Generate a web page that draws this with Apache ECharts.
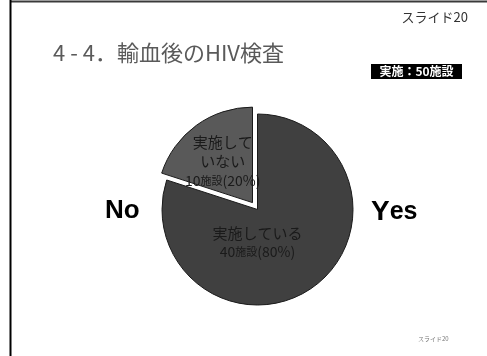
<!DOCTYPE html>
<html><head><meta charset="utf-8">
<script src="https://cdn.jsdelivr.net/npm/echarts@6/dist/echarts.min.js"></script>
<style>html,body{margin:0;padding:0;background:#fff}#c{width:487px;height:356px}</style>
</head><body><div id="c"></div>
<script>
const categories = ['実施している', '実施していない'];
const labelNames = ['実施している', '実施して\nいない'];
const values = [40, 10];
const colors = ['#404040', '#595959'];
const titleText = '4 - 4．輸血後のHIV検査';
const badgeText = '実施：50施設';
const slideText = 'スライド20';

const chart = echarts.init(document.getElementById('c'), null, {renderer: 'canvas'});
const cx = 257.5, cy = 209.5, R = 95.5;
const total = values.reduce((a, b) => a + b, 0);
const JP = '"Noto Sans CJK JP", sans-serif';
const LAT = '"Liberation Sans", Arial, sans-serif';

chart.setOption({
  animation: false,
  graphic: [
    {type: 'line', shape: {x1: 10, y1: 1.5, x2: 487, y2: 1.5}, style: {stroke: '#3a3a3a', lineWidth: 2}},
    {type: 'line', shape: {x1: 10.5, y1: 0, x2: 10.5, y2: 356}, style: {stroke: '#000', lineWidth: 2}},
    {type: 'text', right: 19, top: 11, style: {text: slideText, font: '13px ' + JP, fill: '#333'}},
    {type: 'text', left: 53, top: 42, style: {text: titleText, font: '22px ' + JP, fill: '#5a5a5a'}},
    {type: 'group', left: 371, top: 64, children: [
      {type: 'rect', shape: {x: 0, y: 0, width: 91, height: 15}, style: {fill: '#000'}},
      {type: 'text', x: 45.5, y: 7.5, style: {text: badgeText, font: 'bold 12px ' + JP, fill: '#fff', align: 'center', verticalAlign: 'middle'}}
    ]},
    {type: 'text', left: 105, top: 198, style: {text: 'No', font: 'bold 26px ' + LAT, fill: '#000'}},
    {type: 'text', left: 371, top: 198, style: {
      text: '{y|Y}{e|es}',
      rich: {y: {font: 'bold 28px ' + LAT, fill: '#000'}, e: {font: 'bold 25px ' + LAT, fill: '#000'}}
    }},
    {type: 'text', left: 418, top: 336, style: {text: slideText, font: '6px ' + JP, fill: '#777'}}
  ],
  series: [{
    type: 'pie',
    center: [cx, cy],
    radius: R,
    startAngle: 90,
    clockwise: true,
    selectedMode: 'single',
    selectedOffset: 8.5,
    emphasis: {disabled: true},
    itemStyle: {borderColor: '#1a1a1a', borderWidth: 1},
    labelLine: {show: false},
    label: {
      show: true,
      position: 'inside',
      formatter: function (p) {
        const lines = labelNames[p.dataIndex].split('\n').map(s => '{a|' + s + '}').join('\n');
        return lines + '\n{b|' + p.value + '}{c|施設}{b|(' + Math.round(p.value / total * 100) + '%)}';
      },
      rich: {
        a: {fontFamily: JP, fontSize: 15, color: '#1a1a1a', lineHeight: 19},
        b: {fontFamily: JP, fontSize: 14, color: '#1a1a1a', lineHeight: 19},
        c: {fontFamily: JP, fontSize: 11, color: '#1a1a1a', lineHeight: 19}
      }
    },
    labelLayout: function (p) {
      if (p.dataIndex === 0) return {x: cx, y: cy + 33, align: 'center', verticalAlign: 'middle'};
      return {x: cx - 43, y: cy - 52, align: 'center', verticalAlign: 'middle'};
    },
    data: categories.map((n, i) => ({
      name: n, value: values[i], selected: i === 1,
      itemStyle: {color: colors[i]}
    }))
  }]
});
</script></body></html>
